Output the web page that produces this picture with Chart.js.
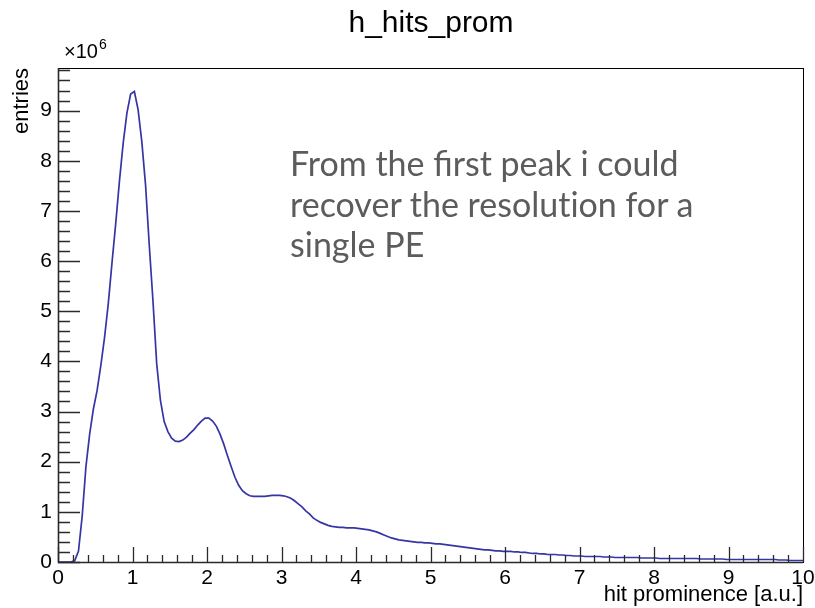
<!DOCTYPE html>
<html>
<head>
<meta charset="utf-8">
<title>h_hits_prom</title>
<script src="https://cdn.jsdelivr.net/npm/chart.js@4.4.1/dist/chart.umd.min.js"></script>
<style>
  html, body { margin: 0; padding: 0; background: #ffffff; }
  #wrap { position: relative; width: 815px; height: 608px; overflow: hidden; }
  #plot { position: absolute; left: 0; top: 0; }
  .txt { position: absolute; white-space: nowrap; }
  #title { left: 231px; width: 400px; top: 7px; text-align: center;
           font: 30px/30px "Liberation Sans", Arial, sans-serif; color: #000; }
  #scale { left: 64px; top: 41px; font: 20px/20px "Liberation Sans", Arial, sans-serif; color: #000; }
  #scale span { position: relative; top: -9px; font-size: 14px; margin-left: 1px; }
  #note { left: 290px; top: 143px; font: 34px/40.5px Lato, "Open Sans", sans-serif; color: #5c5c5c; }
  .plain { font-variant-ligatures: none; font-feature-settings: "liga" 0, "clig" 0; }
</style>
</head>
<body>
<div id="wrap">
  <canvas id="plot" width="815" height="608"></canvas>
  <div class="txt" id="title">h_hits_prom</div>
  <div class="txt" id="scale">×10<span>6</span></div>
  <div class="txt" id="note">From the first peak i could<br>recover the <span class="plain">resolution</span> for a<br>single PE</div>
</div>
<script>
// Histogram binning: 200 bins of 0.05 between 0 and 10
const xMin = 0;
const xMax = 10;
const nBins = 200;

// Bin contents, in units of 10^6 entries
const binContents = [
  0, 0, 0, 0, 0.03, 0.22, 0.92, 1.90, 2.55, 3.05,
  3.42, 3.92, 4.48, 5.15, 5.97, 6.75, 7.60, 8.35, 8.95, 9.33,
  9.38, 9.02, 8.38, 7.52, 6.32, 5.20, 3.95, 3.22, 2.80, 2.60,
  2.47, 2.41, 2.40, 2.43, 2.49, 2.57, 2.64, 2.73, 2.81, 2.87,
  2.87, 2.81, 2.71, 2.55, 2.35, 2.12, 1.90, 1.69, 1.53, 1.42,
  1.36, 1.32, 1.31, 1.31, 1.31, 1.31, 1.32, 1.33, 1.33, 1.33,
  1.32, 1.30, 1.27, 1.22, 1.16, 1.10, 1.02, 0.96, 0.88, 0.83,
  0.79, 0.76, 0.73, 0.71, 0.70, 0.69, 0.69, 0.68, 0.68, 0.68,
  0.67, 0.66, 0.65, 0.64, 0.62, 0.60, 0.57, 0.54, 0.51, 0.48,
  0.46, 0.44, 0.43, 0.42, 0.41, 0.40, 0.39, 0.39, 0.38, 0.38,
  0.37, 0.36, 0.36, 0.35, 0.34, 0.33, 0.32, 0.31, 0.30, 0.29,
  0.28, 0.27, 0.26, 0.25, 0.24, 0.24, 0.23, 0.22, 0.22, 0.21,
  0.21, 0.21, 0.20, 0.20, 0.19, 0.19, 0.18, 0.17, 0.17, 0.16,
  0.16, 0.15, 0.15, 0.15, 0.14, 0.14, 0.13, 0.13, 0.12, 0.12,
  0.12, 0.11, 0.11, 0.11, 0.11, 0.11, 0.10, 0.10, 0.10, 0.09,
  0.09, 0.09, 0.09, 0.09, 0.09, 0.09, 0.08, 0.08, 0.08, 0.08,
  0.08, 0.07, 0.07, 0.07, 0.07, 0.07, 0.07, 0.07, 0.07, 0.07,
  0.07, 0.07, 0.06, 0.06, 0.06, 0.06, 0.06, 0.06, 0.06, 0.05,
  0.05, 0.05, 0.05, 0.05, 0.05, 0.05, 0.05, 0.05, 0.05, 0.05,
  0.05, 0.05, 0.05, 0.04, 0.04, 0.04, 0.03, 0.03, 0.03, 0.03
];

// Axis labels
const xTickValues = [0, 1, 2, 3, 4, 5, 6, 7, 8, 9, 10];
const yTickValues = [0, 1, 2, 3, 4, 5, 6, 7, 8, 9];
const minorPerMajor = 5;

// Outline through the bin centres, held flat out to both ends of the range
const binWidth = (xMax - xMin) / nBins;
const outline = binContents.map((v, i) => ({ x: xMin + (i + 0.5) * binWidth, y: v }));
outline.unshift({ x: xMin, y: binContents[0] });
outline.push({ x: xMax, y: binContents[binContents.length - 1] });

const yTop = 1.05 * Math.max(...binContents);

// Frame and inward-pointing major/minor ticks
const frameTicks = {
  id: 'frameTicks',
  afterDatasetsDraw(chart) {
    const { ctx, chartArea: a, scales: { x, y } } = chart;
    ctx.save();
    ctx.strokeStyle = '#000';
    ctx.lineWidth = 1;
    ctx.strokeRect(Math.round(a.left) + 0.5, Math.round(a.top) + 0.5,
                   Math.round(a.right - a.left), Math.round(a.bottom - a.top));
    ctx.strokeStyle = '#2a2a2a';
    ctx.lineWidth = 1.3;
    ctx.beginPath();
    // x ticks
    const xStep = (xTickValues[1] - xTickValues[0]) / minorPerMajor;
    for (let i = 0; xMin + i * xStep <= xMax + 1e-9; i++) {
      const px = Math.round(x.getPixelForValue(xMin + i * xStep)) + 0.5;
      const len = i % minorPerMajor === 0 ? 15 : 7;
      ctx.moveTo(px, a.bottom);
      ctx.lineTo(px, a.bottom - len);
    }
    // y ticks
    const yStep = (yTickValues[1] - yTickValues[0]) / minorPerMajor;
    for (let i = 0; i * yStep <= yTop; i++) {
      const py = Math.round(y.getPixelForValue(i * yStep)) + 0.5;
      const len = i % minorPerMajor === 0 ? 22 : 12;
      ctx.moveTo(a.left, py);
      ctx.lineTo(a.left + len, py);
    }
    ctx.stroke();
    // axis lines
    ctx.lineWidth = 1.6;
    ctx.beginPath();
    ctx.moveTo(a.left + 0.5, a.top);
    ctx.lineTo(a.left + 0.5, a.bottom + 0.5);
    ctx.lineTo(a.right, a.bottom + 0.5);
    ctx.stroke();
    ctx.restore();
  }
};

Chart.defaults.font.family = '"Liberation Sans", Arial, sans-serif';
Chart.defaults.color = '#000';

new Chart(document.getElementById('plot'), {
  type: 'line',
  data: {
    datasets: [{
      data: outline,
      borderColor: '#3535a6',
      borderWidth: 1.7,
      pointRadius: 0,
      fill: false,
      tension: 0
    }]
  },
  options: {
    responsive: false,
    animation: false,
    devicePixelRatio: 1,
    layout: { padding: { left: 0, right: 12, top: 68, bottom: 0 } },
    plugins: { legend: { display: false }, tooltip: { enabled: false }, title: { display: false } },
    scales: {
      x: {
        type: 'linear',
        min: xMin,
        max: xMax,
        grid: { display: false, drawTicks: false },
        border: { display: false },
        afterBuildTicks: s => { s.ticks = xTickValues.map(v => ({ value: v })); },
        afterFit: s => { s.height = 46; s.paddingLeft = 0; s.paddingRight = 0; },
        ticks: { font: { size: 21 }, padding: 4, maxRotation: 0, autoSkip: false },
        title: {
          display: true,
          text: 'hit prominence [a.u.]',
          align: 'end',
          font: { size: 22 },
          padding: { top: 0, bottom: 0 }
        }
      },
      y: {
        type: 'linear',
        min: 0,
        max: yTop,
        grid: { display: false, drawTicks: false },
        border: { display: false },
        afterBuildTicks: s => { s.ticks = yTickValues.map(v => ({ value: v })); },
        afterFit: s => { s.width = 58; s.paddingTop = 0; s.paddingBottom = 0; },
        ticks: { font: { size: 21 }, padding: 6, autoSkip: false },
        title: {
          display: true,
          text: 'entries',
          align: 'end',
          font: { size: 22 },
          padding: { top: 9, bottom: 0 }
        }
      }
    }
  },
  plugins: [frameTicks]
});
</script>
</body>
</html>
